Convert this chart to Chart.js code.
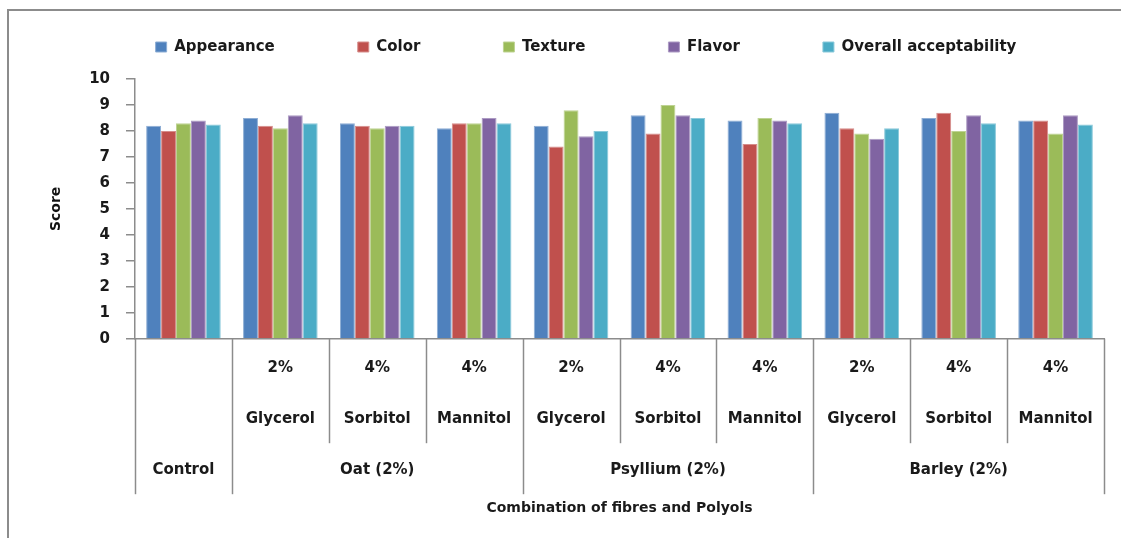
<!DOCTYPE html>
<html>
<head>
<meta charset="utf-8">
<script src="https://cdn.jsdelivr.net/npm/chart.js@4/dist/chart.umd.min.js"></script>
<style>
	html, body { margin: 0; padding: 0; background: #fff; }
	#box { width: 1121px; height: 538px; }
</style>
</head>
<body>
<div id="box"><canvas id="sensory-chart"></canvas></div>
<script>
const polyolLevels = ['', '2%', '4%', '4%', '2%', '4%', '4%', '2%', '4%', '4%']
const polyolNames = ['', 'Glycerol', 'Sorbitol', 'Mannitol', 'Glycerol', 'Sorbitol', 'Mannitol', 'Glycerol', 'Sorbitol', 'Mannitol']
const fibreNames = ['Control', 'Oat (2%)', 'Psyllium (2%)', 'Barley (2%)']
const fibreSpans = [1, 3, 3, 3]

const appearance = [8.2, 8.5, 8.3, 8.1, 8.2, 8.6, 8.4, 8.7, 8.5, 8.4]
const color = [8.0, 8.2, 8.2, 8.3, 7.4, 7.9, 7.5, 8.1, 8.7, 8.4]
const texture = [8.3, 8.1, 8.1, 8.3, 8.8, 9.0, 8.5, 7.9, 8.0, 7.9]
const flavor = [8.4, 8.6, 8.2, 8.5, 7.8, 8.6, 8.4, 7.7, 8.6, 8.6]
const overall = [8.25, 8.3, 8.2, 8.3, 8.0, 8.5, 8.3, 8.1, 8.3, 8.25]

const yTicks = [0, 1, 2, 3, 4, 5, 6, 7, 8, 9, 10]

const FONT = "'DejaVu Sans', Verdana, sans-serif"
const GREY = '#8c8c8c'
const LEGEND_Y = 47
const LEGEND_CENTER = 586

// frame around the whole figure
const framePlugin = {
	id: 'frame',
	beforeDraw(chart) {
		const ctx = chart.ctx
		ctx.save()
		ctx.strokeStyle = GREY
		ctx.lineWidth = 2
		ctx.strokeRect(8, 10, chart.width + 20, chart.height + 20)
		ctx.restore()
	},
}

// move the legend row to where the original has it
const legendPlacePlugin = {
	id: 'legendPlace',
	afterLayout(chart) {
		const lg = chart.legend
		if (!lg) return
		const pad = lg.options.labels.padding
		const itemH = Math.max(lg.options.labels.boxHeight, lg.options.labels.font.size)
		const dx = LEGEND_CENTER - (lg.left + lg.right) / 2
		lg.left += dx
		lg.right += dx
		lg.top = LEGEND_Y - itemH / 2 - pad
	},
}

// the three rows of category labels with their separators
const multiLevelPlugin = {
	id: 'multiLevel',
	afterDraw(chart) {
		const ctx = chart.ctx
		const x = chart.scales.x
		const bottom = chart.chartArea.bottom
		const n = polyolNames.length
		const catW = (x.right - x.left) / n
		const groupEdges = [0]
		fibreSpans.forEach(s => groupEdges.push(groupEdges[groupEdges.length - 1] + s))

		ctx.save()
		ctx.strokeStyle = GREY
		ctx.lineWidth = 1.5
		for (let b = 0; b <= n; b++) {
			const px = Math.round(x.left + b * catW) + 0.5
			const len = groupEdges.includes(b) ? 155.5 : 104.5
			ctx.beginPath()
			ctx.moveTo(px, bottom)
			ctx.lineTo(px, bottom + len)
			ctx.stroke()
		}

		ctx.fillStyle = '#1a1a1a'
		ctx.font = 'bold 15px ' + FONT
		ctx.textAlign = 'center'
		ctx.textBaseline = 'middle'
		for (let i = 0; i < n; i++) {
			const cx = x.getPixelForValue(i)
			ctx.fillText(polyolLevels[i], cx, bottom + 29.5)
			ctx.fillText(polyolNames[i], cx, bottom + 80.5)
		}
		fibreNames.forEach((name, g) => {
			const cx = x.left + (groupEdges[g] + fibreSpans[g] / 2) * catW
			ctx.fillText(name, cx, bottom + 131.5)
		})
		ctx.restore()
	},
}

function lighten(hex) {
	const v = parseInt(hex.slice(1), 16)
	const r = (v >> 16) & 255, g = (v >> 8) & 255, b = v & 255
	const m = c => Math.round(c + (255 - c) * 0.35)
	return `rgb(${m(r)},${m(g)},${m(b)})`
}

function makeSet(label, data, fill) {
	return {
		label: label,
		data: data,
		backgroundColor: fill,
		borderColor: lighten(fill),
		borderWidth: 1,
	}
}

function drawSensoryChart() {
	const canvas = document.getElementById('sensory-chart')
	new Chart(canvas, {
		type: 'bar',
		data: {
			labels: polyolNames.map((p, i) => `${i}`),
			datasets: [
				makeSet('Appearance', appearance, '#4f81bd'),
				makeSet('Color', color, '#c0504d'),
				makeSet('Texture', texture, '#9bbb59'),
				makeSet('Flavor', flavor, '#8064a2'),
				makeSet('Overall acceptability', overall, '#4bacc6'),
			],
		},
		options: {
			responsive: true,
			maintainAspectRatio: false,
			animation: false,
			layout: {
				padding: { left: 0, right: 17, top: 0, bottom: 0 },
			},
			datasets: {
				bar: {
					barPercentage: 1,
					categoryPercentage: 0.77,
				},
			},
			plugins: {
				legend: {
					position: 'top',
					maxHeight: 79,
					labels: {
						boxWidth: 11,
						boxHeight: 10,
						padding: 83,
						color: '#1a1a1a',
						font: { family: FONT, size: 15, weight: 'bold' },
					},
				},
				tooltip: { enabled: false },
			},
			scales: {
				x: {
					grid: { display: false },
					border: { display: true, color: GREY, width: 1.5 },
					ticks: { display: false },
					title: {
						display: true,
						text: 'Combination of fibres and Polyols',
						color: '#1a1a1a',
						font: { family: FONT, size: 14, weight: 'bold' },
						padding: { top: 0, bottom: 21.6 },
					},
					afterFit(scale) {
						scale.height = 199.3
					},
				},
				y: {
					min: 0,
					max: 10,
					afterBuildTicks(scale) {
						scale.ticks = yTicks.map(v => ({ value: v }))
					},
					grid: {
						drawOnChartArea: false,
						drawTicks: true,
						tickLength: 9,
						color: GREY,
						lineWidth: 1.5,
					},
					border: { display: true, color: GREY, width: 1.5 },
					ticks: {
						padding: 16,
						color: '#1a1a1a',
						font: { family: FONT, size: 15, weight: 'bold' },
					},
					title: {
						display: true,
						text: 'Score',
						color: '#111',
						font: { family: FONT, size: 14, weight: '600' },
						padding: { top: 47.6, bottom: 0 },
					},
					afterFit(scale) {
						scale.width = 135
					},
				},
			},
		},
		plugins: [framePlugin, legendPlacePlugin, multiLevelPlugin],
	})
}
drawSensoryChart()
</script>
</body>
</html>
